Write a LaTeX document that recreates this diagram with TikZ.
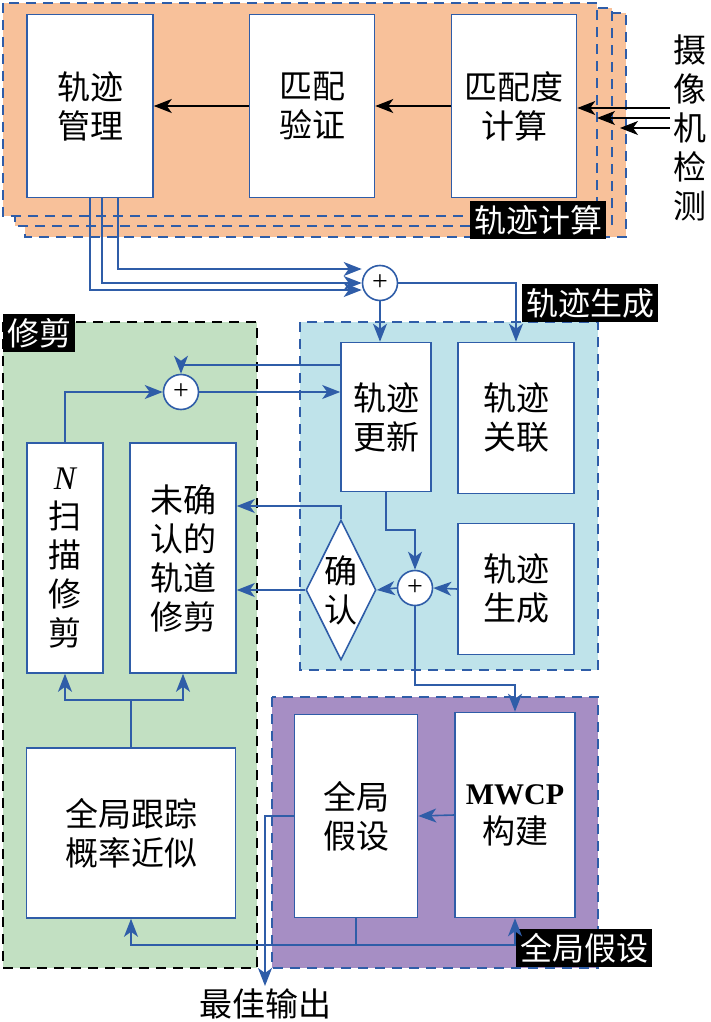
\documentclass[tikz,border=0pt]{standalone}
\usepackage{fontspec}
\newfontfamily\cjk{Noto Sans CJK SC}
\newfontfamily\latinserif{Liberation Serif}
\usetikzlibrary{arrows.meta,shapes.geometric,calc}
\definecolor{lineblue}{HTML}{2F5DA8}
\definecolor{orangebg}{HTML}{F8C19A}
\definecolor{bluebg}{HTML}{BFE3EA}
\definecolor{greenbg}{HTML}{C2E0C2}
\definecolor{purplebg}{HTML}{A68EC4}

\begin{document}
\begin{tikzpicture}[x=1pt,y=-1pt,>={Stealth[length=18pt,width=14pt,inset=5pt]},
                    font=\cjk\fontsize{33}{39}\selectfont]
  \tikzset{box/.style={draw=lineblue,fill=white,line width=1.6pt,inner sep=0pt,
                       align=center},
           region/.style={dashed,dash pattern=on 10pt off 7pt,line width=2pt},
           tag/.style={fill=black,text=white,inner sep=4pt,anchor=north west,
                       font=\cjk\fontsize{32}{34}\selectfont},
           sum/.style={circle,draw=lineblue,fill=white,line width=1.6pt,
                       minimum size=35pt,inner sep=0pt,font=\latinserif\fontsize{28}{28}\selectfont},
           link/.style={lineblue,line width=1.6pt}}
  \useasboundingbox (0,0) rectangle (710,1022);

  % track computation (stacked)
  \filldraw[fill=orangebg,draw=lineblue,region] (25,13) rectangle (626,237);
  \filldraw[fill=orangebg,draw=lineblue,region] (15,8) rectangle (612,226);
  \filldraw[fill=orangebg,draw=lineblue,region] (3,3) rectangle (597,216);
  \node[tag] (tagcalc) at (470,201) {轨迹计算};

  % other regions
  \filldraw[fill=greenbg,draw=black,region] (3,322) rectangle (257,968);
  \filldraw[fill=bluebg,draw=lineblue,region] (300,322) rectangle (598,670);
  \filldraw[fill=purplebg,draw=lineblue,region] (272,697) rectangle (598,968);
  \node[tag] (tagprune) at (3,314) {修剪};
  \node[tag] (taggen) at (522,284) {轨迹生成};
  \node[tag] (taghyp) at (516,929) {全局假设};

  % boxes
  \node[box,minimum width=126pt,minimum height=183pt] (manage) at (90,106) {轨迹\\管理};
  \node[box,minimum width=125pt,minimum height=183pt] (verify) at (312,106) {匹配\\验证};
  \node[box,minimum width=125pt,minimum height=183pt] (score)  at (514,106) {匹配度\\计算};
  \node[box,minimum width=90pt,minimum height=149pt]  (update) at (386,417) {轨迹\\更新};
  \node[box,minimum width=116pt,minimum height=151pt] (assoc)  at (516,418) {轨迹\\关联};
  \node[box,minimum width=116pt,minimum height=131pt] (gen)    at (516,589) {轨迹\\生成};
  \node[diamond,aspect=0.5,draw=lineblue,fill=white,line width=1.6pt,inner sep=-4pt,
        minimum width=70pt,minimum height=140pt,align=center] (confirm) at (341,590) {确\\认};
  \node[box,minimum width=76pt,minimum height=230pt] (nscan)  at (65,558) {{\latinserif\itshape N}\\扫\\描\\修\\剪};
  \node[box,minimum width=106pt,minimum height=230pt] (unconf) at (183,558) {未确\\认的\\轨道\\修剪};
  \node[box,minimum width=209pt,minimum height=170pt] (approx) at (131,833) {全局跟踪\\概率近似};
  \node[box,minimum width=123pt,minimum height=203pt] (ghyp)   at (356,816) {全局\\假设};
  \node[box,minimum width=120pt,minimum height=205pt] (mwcp)   at (515,815) {{\latinserif\bfseries\fontsize{30}{36}\selectfont MWCP}\\构建};

  % sums
  \node[sum] (sumtop) at (380,283) {+};
  \node[sum] (sumprune) at (181,392) {+};
  \node[sum] (sumgen) at (415,588) {+};

  % labels
  \node[align=center,inner sep=0pt] (camera) at (690,128) {摄\\像\\机\\检\\测};
  \node[inner sep=0pt] (best) at (265,1004) {最佳输出};
  \coordinate (bestin) at (265,986);

  % camera inputs
  \draw[->,black,line width=1.3pt] (670,108) -- (score.east |- 0,108);
  \draw[->,black,line width=1.3pt] (670,118) -- (597,118);
  \draw[->,black,line width=1.3pt] (670,128) -- (620,128);
  \draw[->,black,line width=1.3pt] (score) -- (verify);
  \draw[->,black,line width=1.3pt] (verify) -- (manage);

  % to top sum
  \draw[->,link] (manage.south -| 90,0) |- ($(sumtop.west)+(0,7)$);
  \draw[->,link] (manage.south -| 102,0) |- (sumtop.west);
  \draw[->,link] (manage.south -| 118,0) |- ($(sumtop.west)+(0,-14)$);
  \draw[->,link] (sumtop) -- (sumtop |- update.north);
  \draw[->,link] (sumtop.east) -| (assoc.north);

  % pruning loop
  \draw[->,link] (update.west |- 0,365) -| (sumprune.north);
  \draw[->,link] (nscan.north) |- (sumprune.west);
  \draw[->,link] (sumprune.east) -- (update.west |- sumprune);

  % generation
  \draw[->,link] (update.south) |- (415,530) -- (sumgen.north);
  \draw[->,link] (gen.west) -- (sumgen.east);
  \draw[->,link] (sumgen.west) -- (confirm.east);
  \draw[->,link] (confirm.north) |- (unconf.east |- 0,506);
  \draw[->,link] (confirm.west) -- (unconf.east |- confirm);
  \draw[->,link] (sumgen.south) |- (515,685) -- (mwcp.north);

  % approximation to pruning
  \draw[link] (approx.north) -- (131,700);
  \draw[->,link] (131,700) -| (nscan.south);
  \draw[->,link] (131,700) -| (unconf.south);

  % hypothesis
  \draw[->,link] (mwcp.west) -- (ghyp.east);
  \draw[link] (ghyp.south) -- (356,945);
  \draw[->,link] (356,945) -| (approx.south);
  \draw[->,link] (356,945) -| (mwcp.south);
  \draw[->,link] (ghyp.west) -| (bestin);
\end{tikzpicture}
\end{document}
